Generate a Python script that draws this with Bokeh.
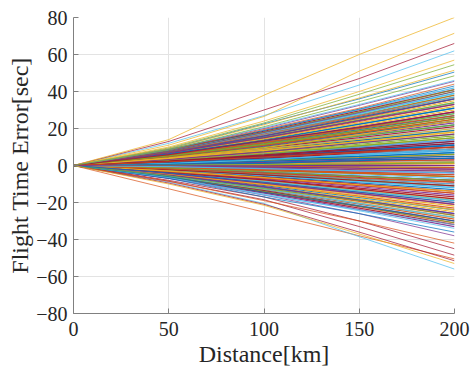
from bokeh.plotting import figure
from bokeh.models import Range1d, FixedTicker
from bokeh.embed import file_html
from bokeh.resources import INLINE

# distance nodes [km]
DIST = [0, 50, 100, 150, 200]

# flight time error [sec] of each run at 50, 100, 150, 200 km (main bundle)
B50 = [2.5, -1.7, 5.3, 0.6, -4, 7.1, -0.4, 1.5, -5.7, 3.8,
       0.2, 8.4, -2.5, 1, 4.6, -6.5, 1.9, -1, 3.2, 5.9,
       -3.2, 0.4, 7.8, -4.6, 2.3, -0.2, 4.2, -2.1, 6.5, 1.3,
       -5.3, 2.9, -1.3, 8.8, -3.6, 1.7, 5, -0.6, -6.9, 3.6,
       0.8, 6.1, -2.7, 0.2, 7.4, -4.2, 2.1, -1.5, 5.5, 2.7,
       -6.1, 4, -0.8, 8, -2.3, 4.4, -5, 0.8, 6.7, -3.4,
       3.4, 1.6, -1.9, 5.7, -0.3, -5.9, 4.8, 1.2, 8.2, -2.9,
       2.4, -4.4, 6.3, -0.1, -1.2, 3, -6.7, 3.9, 7.6, -3.8,
       0.9, 5.1, -2, 2, -5.5, 6.9, 0.5, -0.7, 4.7, -2.6,
       8.6, 1.4, -4.8, 3.1, -1.6, 6, -6.3, 2.6, 1.1, -3.1,
       3.7, -0.5, 7.2, -4.1, 2, 5.1, -1.1, 0.3, 6, -2.4]
B100 = [5.4, -3.6, 11.2, 1.4, -8.6, 15.3, -0.9, 3.2, -12.2, 8.1,
        0.1, 18, -5.4, 2.3, 9.9, -14, 4.1, -2.3, 6.8, 12.6,
        -6.8, 0.9, 16.7, -9.9, 5, -0.5, 9, -4.5, 14, 2.7,
        -11.3, 6.3, -2.7, 18.9, -7.7, 3.6, 10.8, -1.4, -14.9, 7.7,
        1.8, 13.1, -5.9, 0.5, 15.8, -9, 4.5, -3.2, 11.7, 5.9,
        -13.1, 8.6, -1.8, 17.1, -5, 9.5, -10.8, 1.2, 14.4, -7.2,
        7.2, 3.8, -4.1, 12.2, -0.4, -12.6, 10.4, 2.9, 17.6, -6.3,
        4.8, -9.5, 13.5, 0.2, -2.8, 6.2, -14.4, 8.7, 16.2, -8.1,
        1.7, 11.4, -4.6, 4, -11.7, 14.9, 0.8, -1.3, 9.8, -5.3,
        18.5, 3.3, -10.4, 6.9, -3.7, 12.5, -13.5, 5.3, 2.2, -6.9,
        8.2, -0.8, 15.2, -8.5, 4.6, 10.7, -2.2, 0.4, 13.2, -4.9]
B150 = [8.6, -5.8, 18, 2.2, -13.7, 24.5, -1.4, 5, -19.4, 13,
        0, 28.8, -8.6, 3.6, 15.8, -22.3, 6.5, -3.6, 10.8, 20.2,
        -10.8, 1.4, 26.6, -15.8, 7.9, -0.7, 14.4, -7.2, 22.3, 4.3,
        -18, 10.1, -4.3, 30.2, -12.2, 5.8, 17.3, -2.2, -23.8, 12.2,
        2.9, 20.9, -9.4, 0.7, 25.2, -14.4, 7.2, -5, 18.7, 9.4,
        -20.9, 13.7, -2.9, 27.4, -7.9, 15.1, -17.3, 2.4, 23, -11.5,
        11.5, 5.6, -6.5, 19.4, -0.8, -20.2, 16.6, 4.2, 28.1, -10.1,
        8.1, -15.1, 21.6, -0.2, -4.2, 10.2, -23, 13.6, 25.9, -13,
        3, 17.8, -7.1, 6.6, -18.7, 23.8, 1.5, -2.3, 16, -8.7,
        29.5, 4.9, -16.6, 10.7, -5.7, 20.3, -21.6, 8.7, 3.7, -10.7,
        12.9, -1.5, 24.6, -13.8, 7.1, 17.4, -3.7, 0.8, 20.8, -8]
B200 = [12, -8, 25, 3, -19, 34, -2, 7, -27, 18,
        0, 40, -12, 5, 22, -31, 9, -5, 15, 28,
        -15, 2, 37, -22, 11, -1, 20, -10, 31, 6,
        -25, 14, -6, 42, -17, 8, 24, -3, -33, 17,
        4, 29, -13, 1, 35, -20, 10, -7, 26, 13,
        -29, 19, -4, 38, -11, 21, -24, 3, 32, -16,
        16, 8, -9, 27, -1, -28, 23, 6, 39, -14,
        11, -21, 30, 0, -6, 14, -32, 19, 36, -18,
        4, 25, -10, 9, -26, 33, 2, -3, 22, -12,
        41, 7, -23, 15, -8, 28, -30, 12, 5, -15,
        18, -2, 34, -19, 10, 24, -5, 1, 29, -11]

# second set of bundle runs (crossing the first ones)
C50 = [1.2, -3.9, 6.4, -0.9, 4.1, -5.2, 2.8, 7.9, -2.2, 0.6,
       5.6, -4.6, 3.3, -1.4, 8.1, -6.2, 1.8, 4.9, -3.0, 6.9,
       0.1, -5.8, 2.4, 7.3, -1.9, 3.9, -4.3, 5.2, -0.6, 2.1]
C100 = [3.1, -7.8, 13.5, -2.6, 9.6, -11.4, 6.2, 16.8, -5.1, 1.1,
        12.4, -10.2, 7.4, -3.5, 17.3, -13.6, 4.6, 10.9, -6.6, 15.1,
        0.3, -12.6, 5.7, 15.9, -4.2, 8.8, -9.6, 11.6, -1.7, 4.8]
C150 = [6.1, -12.9, 22.4, -4.3, 16.7, -18.8, 10.6, 27.2, -8.1, 2.6,
        19.9, -16.9, 12.3, -5.9, 28.0, -21.9, 7.9, 17.8, -10.4, 24.3,
        0.8, -20.5, 9.2, 26.1, -6.8, 14.2, -15.2, 18.9, -2.9, 7.6]
C200 = [9, -18, 31, -6, 24, -26, 15, 37, -11, 4,
        27, -24, 17, -8, 39, -30, 11, 25, -14, 33,
        1.5, -28, 13, 36, -9, 20, -21, 26, -4, 10]

# outer runs (drawn last)
O50 = [12, 13, 9, -12.6, 14, 8.5, 9.5, -9, -8.5, 8, 8, 11, -7, 7.5, -6.5, -8, -7,
       -8.5, 10, 7.6, -6, -6.5, -9.5, -6, 7, 9, 6.8, -5.5, 8.5, 5.8, -4, 2, -10, 0.1, 8.5]
O100 = [27, 30, 22.5, -25.2, 38, 20, 23, -20.5, -18.5, 19, 19.5, 26.5, -16, 18, -15.5, -17, -17,
        -19, 24, 17.8, -14, -16, -21, -14.5, 17, 22, 16, -12.5, 20.5, 13.5, -9.2, 4.6, -21.5, -0.2, 21]
O150 = [43.5, 47, 36, -38, 60, 32.5, 38.5, -38.5, -33, 30.5, 31, 51, -26, 29, -24.5, -30, -26,
        -30, 40, 28.5, -22, -24, -36, -22, 27, 36.5, 25.5, -19, 33, 20.5, -14.5, 7.2, -37, 0.3, 34.5]
O200 = [62, 66, 50.5, -50.5, 80, 45.5, 54.5, -56, -48.5, 43, 44, 71.5, -38, 41, -34, -45, -36,
        -42, 57, 40, -31, -32, -51.5, -30, 38, 51.5, 36, -27, 46, 29, -20, 10, -53, 0, 48.5]

X_TICKS = [0, 50, 100, 150, 200]
Y_TICKS = [-80, -60, -40, -20, 0, 20, 40, 60, 80]
PALETTE = ["#0072BD", "#D95319", "#EDB120", "#7E2F8E", "#77AC30", "#4DBEEE", "#A2142F"]
FONT = "Liberation Serif"


def runs(a50, a100, a150, a200, offset):
    xs, ys, cols = [], [], []
    for i in range(len(a200)):
        xs.append(DIST)
        ys.append([0, a50[i], a100[i], a150[i], a200[i]])
        cols.append(PALETTE[(i + offset) % len(PALETTE)])
    return xs, ys, cols


p = figure(width=474, height=374, x_range=Range1d(0, 200), y_range=Range1d(-80, 80),
           output_backend="svg", toolbar_location=None,
           min_border_left=73, min_border_right=20, min_border_top=17, min_border_bottom=61)
p.outline_line_color = None
p.background_fill_color = "white"
p.border_fill_color = "white"

bx, by, bc = runs(B50 + C50, B100 + C100, B150 + C150, B200 + C200, 0)
p.multi_line(bx, by, line_color=bc, line_width=1.2, line_alpha=0.9)
ox, oy, oc = runs(O50, O100, O150, O200, 5)
p.multi_line(ox, oy, line_color=oc, line_width=0.9, line_alpha=0.8)

for ax in p.axis:
    ax.major_label_text_font = FONT
    ax.major_label_text_font_size = "20px"
    ax.major_label_text_color = "#262626"
    ax.axis_label_text_font = FONT
    ax.axis_label_text_font_size = "24px"
    ax.axis_label_text_font_style = "normal"
    ax.axis_label_text_color = "#262626"
    ax.axis_line_color = "#808080"
    ax.major_tick_line_color = "#808080"
    ax.major_tick_in = 5
    ax.major_tick_out = 0
    ax.minor_tick_line_color = None

p.xaxis.ticker = FixedTicker(ticks=X_TICKS)
p.yaxis.ticker = FixedTicker(ticks=Y_TICKS)
p.xaxis.axis_label = "Distance[km]"
p.yaxis.axis_label = "Flight Time Error[sec]"
p.xaxis.major_label_standoff = 8
p.yaxis.major_label_standoff = 6
p.xaxis.axis_label_standoff = 2
p.yaxis.axis_label_standoff = 0

p.xgrid.ticker = FixedTicker(ticks=X_TICKS)
p.ygrid.ticker = FixedTicker(ticks=Y_TICKS)
p.grid.grid_line_color = "#e3e3e3"
p.grid.grid_line_width = 1

open("out.html", "w").write(file_html(p, INLINE))
